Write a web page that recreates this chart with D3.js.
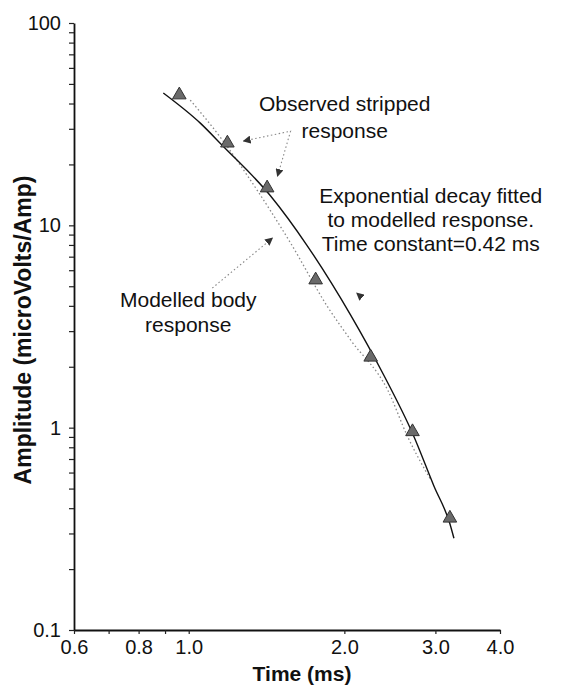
<!DOCTYPE html>
<html><head><meta charset="utf-8">
<script src="https://cdn.jsdelivr.net/npm/d3@7"></script>
<style>
body{margin:0;background:#fff}
text{font-family:"Liberation Sans",Arial,Helvetica,sans-serif;fill:#111}
</style>
</head><body>
<svg id="chart" width="570" height="685"></svg>
<script>
// ---- data ----
const observedTime = [0.959, 1.188, 1.418, 1.760, 2.249, 2.709, 3.200];
const observedAmp  = [44.1, 25.5, 15.3, 5.37, 2.23, 0.955, 0.357];

const modelledTime = [1.007, 1.162, 1.317, 1.574, 1.857, 2.057, 2.427, 2.653, 2.940];
const modelledAmp  = [41.6, 26.4, 16.7, 8.18, 3.95, 2.71, 1.53, 0.899, 0.551];

const fitTime = [0.893, 1.053, 1.162, 1.439, 1.697, 2.057, 2.383, 2.713, 2.980, 3.200, 3.258];
const fitAmp  = [45.1, 32.0, 24.8, 14.0, 7.9, 3.6, 1.82, 0.93, 0.515, 0.335, 0.284];

const xTickValues = [0.6, 0.8, 1, 2, 3, 4];
const xTickLabels = ["0.6", "0.8", "1.0", "2.0", "3.0", "4.0"];
const yTickValues = [0.1, 1, 10, 100];
const yTickLabels = ["0.1", "1", "10", "100"];

const xTitle = "Time (ms)";
const yTitle = "Amplitude (microVolts/Amp)";

// annotations (anchors in data units)
const obsLabel = ["Observed stripped", "response"];
const obsLabelAt = [2.003, 36.7];
const obsLeaderTime = [1.276, 1.574, 1.485];
const obsLeaderAmp  = [26.1, 29.2, 17.5];

const fitLabel = ["Exponential decay fitted", "to modelled response.", "Time constant=0.42 ms"];
const fitLabelAt = [2.939, 12.9];
const fitLeaderTime = [2.190, 2.113];
const fitLeaderAmp  = [4.27, 4.63];

const modLabel = ["Modelled body", "response"];
const modLabelAt = [0.998, 3.95];
const modLeaderTime = [1.111, 1.452];
const modLeaderAmp  = [4.90, 8.65];

// ---- drawing ----
const svg = d3.select("#chart");
const x = d3.scaleLog().domain([0.6, 4]).range([74, 500]);
const y = d3.scaleLog().domain([0.1, 100]).range([630, 23]);

const defs = svg.append("defs");
defs.append("marker").attr("id", "ah")
  .attr("viewBox", "0 0 10 10").attr("refX", 9).attr("refY", 5)
  .attr("markerWidth", 8).attr("markerHeight", 8).attr("markerUnits", "userSpaceOnUse")
  .attr("orient", "auto-start-reverse")
  .append("path").attr("d", "M0,0 L10,5 L0,10 z").attr("fill", "#333");

// axes
const yAxis = d3.axisLeft(y).tickValues(y.ticks()).tickSize(5).tickSizeOuter(0).tickPadding(8)
  .tickFormat(d => { const i = yTickValues.findIndex(v => Math.abs(v - d) < 1e-9); return i >= 0 ? yTickLabels[i] : ""; });
const gy = svg.append("g").attr("transform", `translate(${x(0.6)},0)`).call(yAxis);

const xAxis = d3.axisBottom(x).tickValues(x.ticks()).tickSize(4).tickSizeOuter(0).tickPadding(6)
  .tickFormat(d => { const i = xTickValues.findIndex(v => Math.abs(v - d) < 1e-9); return i >= 0 ? xTickLabels[i] : ""; });
const gx = svg.append("g").attr("transform", `translate(0,${y(0.1)})`).call(xAxis);

[gx, gy].forEach(g => {
  g.select(".domain").attr("stroke", "#111").attr("stroke-width", 1.8);
  g.selectAll(".tick line").attr("stroke", "#222").attr("stroke-width", 1.2);
  g.selectAll(".tick text").attr("font-size", 20).attr("fill", "#222")
    .attr("font-family", '"Liberation Sans",Arial,sans-serif');
});

svg.append("text").attr("x", 302).attr("y", 681)
  .attr("text-anchor", "middle").attr("font-size", 21).attr("font-weight", "bold").text(xTitle);
svg.append("text").attr("transform", `translate(31,330) rotate(-90)`)
  .attr("text-anchor", "middle").attr("font-size", 23).attr("font-weight", "bold").text(yTitle);

// modelled response (dotted)
const line = d3.line().x(d => x(d[0])).y(d => y(d[1])).curve(d3.curveMonotoneX);
svg.append("path").datum(modelledTime.map((t, i) => [t, modelledAmp[i]]))
  .attr("d", line).attr("fill", "none").attr("stroke", "#888").attr("stroke-width", 1.3)
  .attr("stroke-dasharray", "1.5,2.5");

// fitted exponential (solid)
svg.append("path").datum(fitTime.map((t, i) => [t, fitAmp[i]]))
  .attr("d", line).attr("fill", "none").attr("stroke", "#111").attr("stroke-width", 1.4);

// observed points
svg.append("g").selectAll("path").data(observedTime.map((t, i) => [t, observedAmp[i]]))
  .join("path")
  .attr("transform", d => `translate(${x(d[0])},${y(d[1])})`)
  .attr("d", d3.symbol(d3.symbolTriangle, 80))
  .attr("fill", "#6a6a6a").attr("stroke", "#333").attr("stroke-width", 1);

// annotations
const straight = d3.line().x(d => x(d[0])).y(d => y(d[1]));
function leader(ts, vs, both, visible) {
  svg.append("path").datum(ts.map((t, i) => [t, vs[i]]))
    .attr("d", straight).attr("fill", "none")
    .attr("stroke", visible ? "#888" : "none").attr("stroke-width", 1.1)
    .attr("stroke-dasharray", "1.5,2.5")
    .attr("marker-end", "url(#ah)")
    .attr("marker-start", both ? "url(#ah)" : null);
}
function label(lines, at, gap) {
  const t = svg.append("text").attr("text-anchor", "middle").attr("font-size", 21).attr("fill", "#222");
  lines.forEach((s, i) => t.append("tspan").attr("x", x(at[0])).attr("y", y(at[1]) + i * gap).text(s));
}
leader(obsLeaderTime, obsLeaderAmp, true, true);
leader(modLeaderTime, modLeaderAmp, false, true);
leader(fitLeaderTime, fitLeaderAmp, false, false);
label(obsLabel, obsLabelAt, 27);
label(fitLabel, fitLabelAt, 24);
label(modLabel, modLabelAt, 25);
</script>
</body></html>
